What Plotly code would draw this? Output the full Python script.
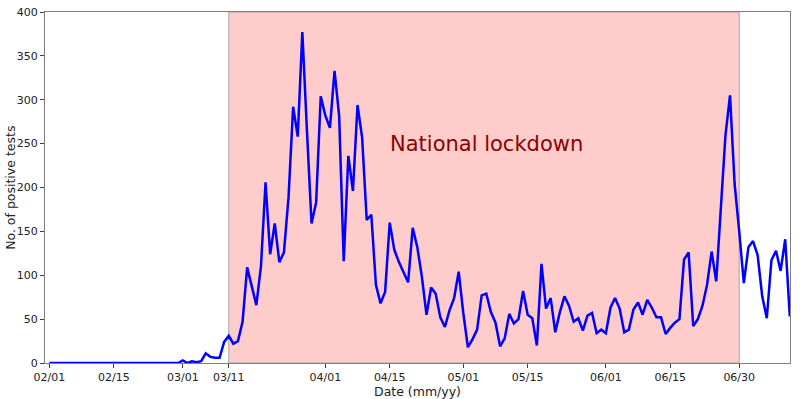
import pandas as pd
import plotly.graph_objects as go

start_date = "2020-02-01"
positive_tests = [0] * 29 + [
    3, 0, 2, 1, 2, 11, 7, 6, 6, 24,
    31, 22, 25, 47, 109, 88, 66, 110, 206, 124,
    159, 115, 126, 189, 292, 258, 377, 265, 159, 183,
    304, 282, 268, 333, 282, 116, 236, 196, 294, 257,
    163, 169, 89, 68, 81, 160, 129, 115, 104, 92,
    154, 132, 98, 55, 86, 79, 52, 41, 60, 74,
    104, 57, 18, 27, 38, 77, 79, 58, 46, 19,
    28, 56, 45, 50, 82, 55, 51, 20, 113, 62,
    74, 35, 58, 76, 65, 47, 51, 37, 54, 57,
    34, 38, 34, 63, 74, 62, 35, 38, 61, 69,
    55, 72, 63, 52, 52, 33, 40, 46, 50, 118,
    126, 42, 50, 65, 89, 127, 93, 172, 259, 305,
    204, 150, 91, 132, 139, 123, 76, 51, 117, 128,
    105, 141, 53,
]
dates = pd.date_range(start_date, periods=len(positive_tests), freq="D")

lockdown_start = "2020-03-11"
lockdown_end = "2020-06-30"
lockdown_label = "National lockdown"
x_title = "Date (mm/yy)"
y_title = "No. of positive tests"

tick_dates = ["2020-02-01", "2020-02-15", "2020-03-01", "2020-03-11", "2020-04-01",
              "2020-04-15", "2020-05-01", "2020-05-15", "2020-06-01", "2020-06-15",
              "2020-06-30"]
tick_labels = ["02/01", "02/15", "03/01", "03/11", "04/01", "04/15", "05/01",
               "05/15", "06/01", "06/15", "06/30"]
y_ticks = [0, 50, 100, 150, 200, 250, 300, 350, 400]

fig = go.Figure()
fig.add_shape(type="rect", xref="x", yref="paper", x0=lockdown_start, x1=lockdown_end,
              y0=0, y1=1, fillcolor="rgb(255,204,204)", line=dict(color="rgba(150,150,150,0.8)", width=1),
              layer="below")
fig.add_trace(go.Scatter(x=dates, y=positive_tests, mode="lines",
                         line=dict(color="blue", width=2.5), showlegend=False))
fig.add_annotation(x="2020-05-06 02:00", y=250, xref="x", yref="y", text=lockdown_label,
                   showarrow=False, font=dict(color="#8b0000", size=21, family="DejaVu Sans"),
                   xanchor="center", yanchor="middle")
fig.add_annotation(x=-0.0465, y=0.5, xref="paper", yref="paper", text=y_title, textangle=-90,
                   showarrow=False, font=dict(color="#222", size=12.5, family="DejaVu Sans"),
                   xanchor="center", yanchor="middle")

axis_common = dict(showline=True, mirror=True, linecolor="#808080", linewidth=1,
                   showgrid=False, zeroline=False, ticks="outside", ticklen=4,
                   tickcolor="#404040", tickfont=dict(size=11, color="#222"),
                   automargin=False)
fig.update_xaxes(range=["2020-01-31 01:00", "2020-07-11 01:00"], tickvals=tick_dates,
                 ticktext=tick_labels,
                 title=dict(text=x_title, font=dict(size=12.5, color="#222"), standoff=4),
                 **axis_common)
fig.update_yaxes(range=[0, 400], tickvals=y_ticks, **axis_common)
fig.update_layout(width=800, height=399, margin=dict(l=45, r=10, t=12, b=36),
                  plot_bgcolor="white", paper_bgcolor="white",
                  font=dict(family="DejaVu Sans"))
fig.write_html("out.html", config={"displayModeBar": False},
               post_script="document.body.style.margin='0';")
